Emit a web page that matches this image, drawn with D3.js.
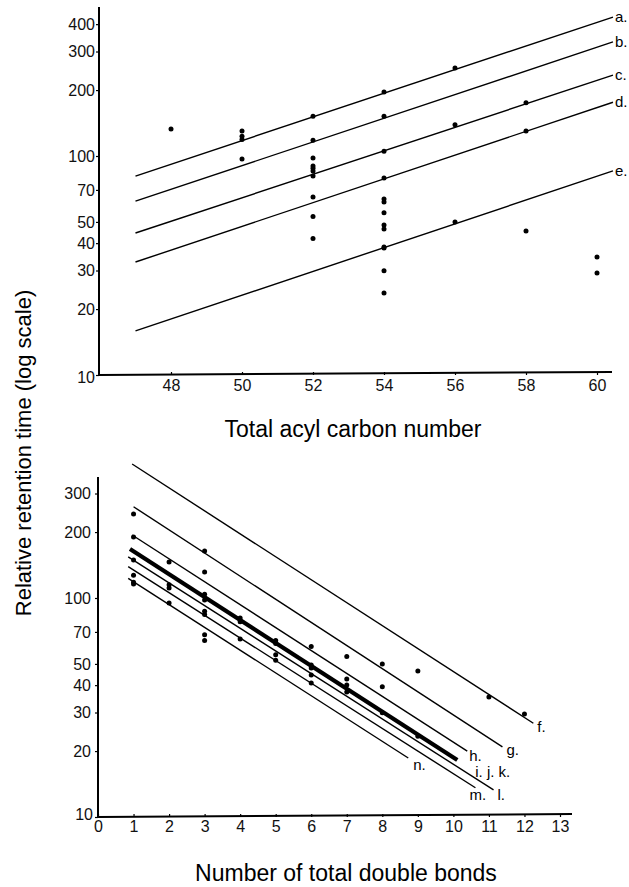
<!DOCTYPE html>
<html><head><meta charset="utf-8">
<script src="https://cdn.jsdelivr.net/npm/d3@7"></script>
<style>
html,body{margin:0;padding:0;background:#fff;}
svg{display:block;}
.tick text{font-family:"Liberation Sans",Arial,sans-serif;font-size:16px;fill:#111;}
</style></head>
<body>
<svg id="chart" width="629" height="887"></svg>
<script>
// ---------- Top panel: retention vs total acyl carbon number ----------
const topXTicks = [48, 50, 52, 54, 56, 58, 60];
const topYTicks = [10, 20, 30, 40, 50, 70, 100, 200, 300, 400];
const topLineNames = ["a.", "b.", "c.", "d.", "e."];
const topLineStartX = [47, 47, 47, 47, 47];
const topLineStartY = [81, 62.2, 44.5, 32.8, 15.9];
const topLineEndX = [60.45, 60.45, 60.45, 60.45, 60.45];
const topLineEndY = [431, 332, 234, 176, 85.5];
const topPointX = [48, 50, 50, 50, 50,
  52, 52, 52, 52, 52, 52, 52, 52, 52, 52,
  54, 54, 54, 54, 54, 54, 54, 54, 54, 54, 54, 54, 54,
  56, 56, 56, 58, 58, 58, 60, 60];
const topPointY = [133, 130, 123, 119, 97,
  152, 118, 98, 90, 88, 85.5, 81, 65, 53, 42,
  196, 152, 105, 79.4, 63.7, 61.7, 55, 48.4, 46.4, 38.4, 38, 29.9, 23.7,
  252, 139, 50, 175, 130, 45.5, 34.6, 29.2];

// ---------- Bottom panel: retention vs number of double bonds ----------
const botXTicks = [0, 1, 2, 3, 4, 5, 6, 7, 8, 9, 10, 11, 12, 13];
const botYTicks = [10, 20, 30, 40, 50, 70, 100, 200, 300];
const botLineNames = ["f.", "g.", "h.", "i. j. k.", "l.", "m.", "n."];
const botLineWidth = ["thin", "thin", "thin", "thick", "thin", "thin", "thin"];
const botLineStartX = [0.96, 1.0, 0.96, 0.9, 0.85, 0.85, 0.85];
const botLineStartY = [409, 261, 194, 167.5, 154, 139, 123];
const botLineEndX = [12.25, 11.38, 10.39, 10.11, 11.13, 10.62, 8.73];
const botLineEndY = [26.8, 20.9, 20.0, 18.2, 13.3, 13.6, 18.6];
const botPointX = [1, 1, 1, 1, 1, 1,
  2, 2, 2, 2,
  3, 3, 3, 3, 3, 3, 3, 3,
  4, 4, 4,
  5, 5, 5, 5,
  6, 6, 6, 6, 6,
  7, 7, 7, 7,
  8, 8, 8,
  9, 9,
  11, 12];
const botPointY = [242, 190, 149, 127, 118, 116,
  146, 115, 111, 95,
  164, 131.5, 104, 98, 87, 84, 68, 64,
  81, 78, 65,
  64, 62, 55, 52,
  60, 49.4, 47.9, 44.5, 40.9,
  54, 42.7, 40.1, 37.2,
  50, 39.3, 29.9,
  46.4, 23.4,
  35.3, 29.5];

const svg = d3.select("#chart");
const LW = 1.4;

// scales
const tx = d3.scaleLinear().domain([48, 60]).range([171, 597]);
const ty = d3.scaleLog().domain([10, 400]).range([375, 375 - 219 * Math.log10(40)]);
const bx = d3.scaleLinear().domain([0, 13]).range([98, 560]);
const by = d3.scaleLog().domain([10, 300]).range([817, 817 - 219 * Math.log10(30)]);

function panel(xs, ys, xTicks, yTicks, axisTop, xEnd, yPad, xPad) {
  const g = svg.append("g");
  // axis lines
  g.append("line").attr("x1", xs.range()[0] - (xs.domain()[0] - (xs === tx ? 46.2 : 0)) * 0)
    .attr("x2", 0).attr("y1", 0).attr("y2", 0).remove();
  const x0 = xs === tx ? 99 : 98;
  g.append("line").attr("x1", x0).attr("x2", x0).attr("y1", axisTop).attr("y2", ys.range()[0] + 1)
    .attr("stroke", "#000").attr("stroke-width", 2);
  g.append("line").attr("x1", x0).attr("x2", xEnd).attr("y1", ys.range()[0]).attr("y2", ys.range()[0] - 3)
    .attr("stroke", "#000").attr("stroke-width", 2);
  const ya = d3.axisLeft(ys).tickValues(yTicks).tickFormat(d3.format("d")).tickSize(3).tickPadding(yPad);
  const yg = g.append("g").attr("transform", `translate(${x0},0)`).call(ya);
  yg.select(".domain").remove();
  yg.selectAll(".tick line").attr("stroke", "#000").attr("stroke-width", 1.2);
  const xa = d3.axisBottom(xs).tickValues(xTicks).tickFormat(d3.format("d")).tickSize(-3).tickPadding(xPad);
  const xg = g.append("g").attr("transform", `translate(0,${ys.range()[0]})`).call(xa);
  xg.select(".domain").remove();
  xg.selectAll(".tick line").attr("stroke", "#000").attr("stroke-width", 1.2);
  return {g, yg, xg};
}

// ---- top panel ----
const T = panel(tx, ty, topXTicks, topYTicks, 7, 612, 1, 5);
T.yg.selectAll(".tick").filter(d => d === 10).select("text").attr("dy", "0.45em");

const topLines = topLineNames.map((n, i) => ({
  name: n, x0: topLineStartX[i], y0: topLineStartY[i], x1: topLineEndX[i], y1: topLineEndY[i]
}));
svg.append("g").selectAll("line").data(topLines).join("line")
  .attr("x1", d => tx(d.x0)).attr("y1", d => ty(d.y0))
  .attr("x2", d => tx(d.x1)).attr("y2", d => ty(d.y1))
  .attr("stroke", "#000").attr("stroke-width", LW);
svg.append("g").selectAll("text").data(topLines).join("text")
  .attr("x", d => tx(d.x1) + 2).attr("y", d => ty(d.y1) + 5)
  .attr("font-family", "Liberation Sans, Arial, sans-serif").attr("font-size", 15)
  .text(d => d.name);

svg.append("g").selectAll("circle").data(topPointX.map((x, i) => [x, topPointY[i]])).join("circle")
  .attr("cx", d => tx(d[0])).attr("cy", d => ty(d[1])).attr("r", 2.5).attr("fill", "#000");

svg.append("text").attr("x", 353).attr("y", 437).attr("text-anchor", "middle")
  .attr("font-family", "Liberation Sans, Arial, sans-serif").attr("font-size", 23)
  .text("Total acyl carbon number");

// ---- bottom panel ----
const B = panel(bx, by, botXTicks, botYTicks, 477, 572, 4, 4);
B.yg.selectAll(".tick").filter(d => d === 10).select("text").attr("dy", "0.15em").attr("x", -5);

const botLines = botLineNames.map((n, i) => ({
  name: n, w: botLineWidth[i], x0: botLineStartX[i], y0: botLineStartY[i], x1: botLineEndX[i], y1: botLineEndY[i]
}));
svg.append("g").selectAll("line").data(botLines).join("line")
  .attr("x1", d => bx(d.x0)).attr("y1", d => by(d.y0))
  .attr("x2", d => bx(d.x1)).attr("y2", d => by(d.y1))
  .attr("stroke", "#000").attr("stroke-width", d => d.w === "thick" ? 4.2 : LW);

const botLabelOffsets = {"f.": [4, 9], "g.": [4, 8], "h.": [2, 10], "i. j. k.": [18, 17], "l.": [4, 10], "m.": [-6, 12], "n.": [5, 12]};
svg.append("g").selectAll("text").data(botLines).join("text")
  .attr("x", d => bx(d.x1) + botLabelOffsets[d.name][0])
  .attr("y", d => by(d.y1) + botLabelOffsets[d.name][1])
  .attr("font-family", "Liberation Sans, Arial, sans-serif").attr("font-size", 15)
  .text(d => d.name);

svg.append("g").selectAll("circle").data(botPointX.map((x, i) => [x, botPointY[i]])).join("circle")
  .attr("cx", d => bx(d[0])).attr("cy", d => by(d[1])).attr("r", 2.5).attr("fill", "#000");

svg.append("text").attr("x", 346).attr("y", 881).attr("text-anchor", "middle")
  .attr("font-family", "Liberation Sans, Arial, sans-serif").attr("font-size", 23)
  .text("Number of total double bonds");

// shared y title
svg.append("text").attr("transform", "translate(31,453) rotate(-90)").attr("text-anchor", "middle")
  .attr("font-family", "Liberation Sans, Arial, sans-serif").attr("font-size", 22)
  .text("Relative retention time (log scale)");
</script>
</body></html>
